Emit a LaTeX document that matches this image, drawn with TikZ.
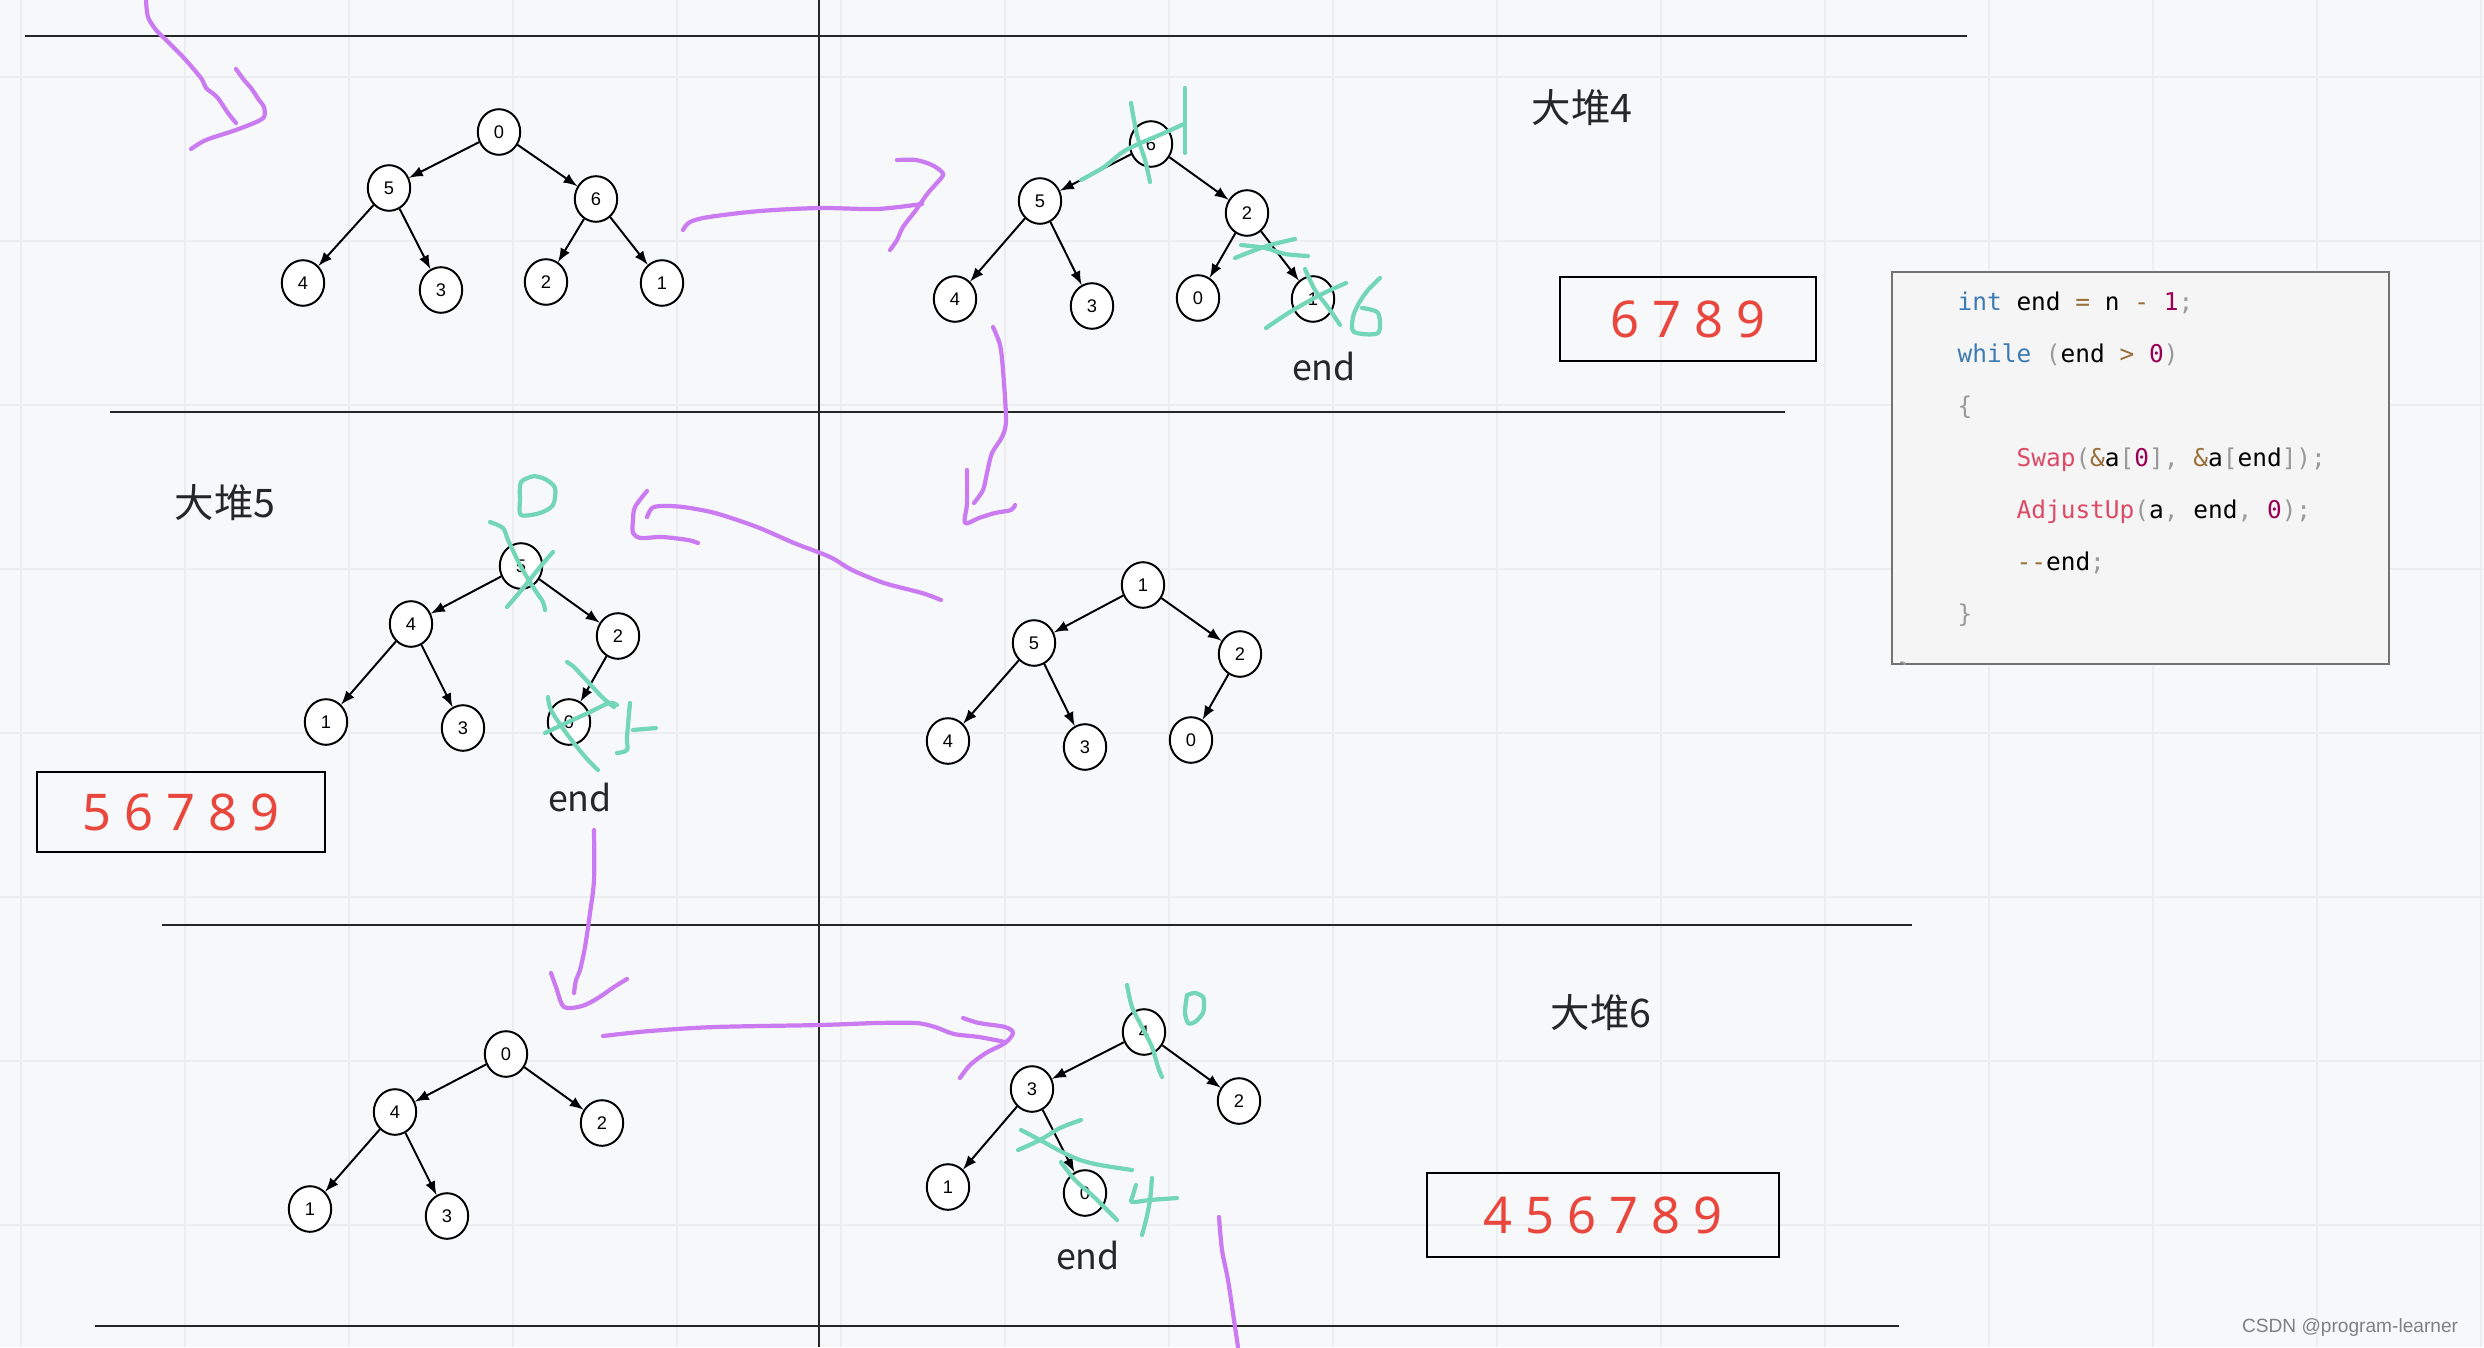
\documentclass[tikz,border=0pt]{standalone}
\usepackage{fontspec}
\setmainfont{Noto Sans}
\setmonofont{DejaVu Sans Mono}
\newfontfamily\cjk{Noto Sans CJK SC}
\newfontfamily\thin{Liberation Sans}
\usetikzlibrary{shapes.geometric}
\definecolor{paper}{HTML}{F7F8FA}
\definecolor{gridline}{HTML}{ECEDF0}
\definecolor{penpurple}{HTML}{CB7BF2}
\definecolor{pengreen}{HTML}{72D6B7}
\definecolor{redtxt}{HTML}{E9473D}
\definecolor{codebg}{HTML}{F5F5F5}
\definecolor{ckw}{HTML}{3C7BB3}
\definecolor{cfn}{HTML}{DD4A68}
\definecolor{cnum}{HTML}{990055}
\definecolor{cop}{HTML}{9A6E3A}
\definecolor{cpun}{HTML}{999999}
\newcommand{\ckey}[1]{\textcolor{ckw}{#1}}
\newcommand{\cfunc}[1]{\textcolor{cfn}{#1}}
\newcommand{\cnumb}[1]{\textcolor{cnum}{#1}}
\newcommand{\coper}[1]{\textcolor{cop}{#1}}
\newcommand{\cpunc}[1]{\textcolor{cpun}{#1}}
\begin{document}
\begin{tikzpicture}[>=latex,x=0.0125cm,y=-0.0125cm,
    hn/.style={ellipse,draw,fill=white,line width=0.7pt,minimum width=0.53cm,minimum height=0.57cm,inner sep=0pt,font=\thin\fontsize{6.5}{7}\selectfont},
    tr/.style={->,line width=0.7pt},
    sep/.style={line width=0.8pt,black!85},
    pp/.style={penpurple,line width=1.5pt,line cap=round,line join=round},
    gp/.style={pengreen,line width=1.5pt,line cap=round,line join=round},
    lab/.style={font=\cjk\fontsize{14}{16}\selectfont,text=black!85},
    endl/.style={font=\cjk\fontsize{12.7}{14}\selectfont,text=black!85},
    res/.style={draw,line width=0.7pt,text=redtxt,inner sep=0pt,font=\fontsize{18}{20}\selectfont},
    cl/.style={anchor=base west,inner sep=0pt,font=\ttfamily\fontsize{8.7}{10}\selectfont}]

\fill[paper] (0,0) rectangle (2484,1347);
\useasboundingbox (0,0) rectangle (2484,1347);
\foreach \x in {21,185,...,2481} \draw[gridline,line width=0.8pt] (\x,0)--(\x,1347);
\foreach \y in {77,241,...,1225} \draw[gridline,line width=0.8pt] (0,\y)--(2484,\y);

\draw[sep] (25,36)--(1967,36);
\draw[sep] (819,0)--(819,1347);
\draw[sep] (110,412)--(1785,412);
\draw[sep] (162,925)--(1912,925);
\draw[sep] (95,1326)--(1899,1326);

\foreach \n/\x/\y in {0/499/132,5/389/188,6/596/199,4/303/283,3/441/290,2/546/282,1/662/283}
    \node[hn] (a\n) at (\x,\y) {\n};
\foreach \p/\c in {0/5,0/6,5/4,5/3,6/2,6/1} \draw[tr] (a\p)--(a\c);

\foreach \n/\x/\y in {6/1151/144,5/1040/201,2/1247/213,4/955/299,3/1092/306,0/1198/298,1/1313/299}
    \node[hn] (b\n) at (\x,\y) {\n};
\foreach \p/\c in {6/5,6/2,5/4,5/3,2/0,2/1} \draw[tr] (b\p)--(b\c);

\foreach \n/\x/\y in {5/521/566,4/411/624,2/618/636,1/326/722,3/463/728,0/569/722}
    \node[hn] (c\n) at (\x,\y) {\n};
\foreach \p/\c in {5/4,5/2,4/1,4/3,2/0} \draw[tr] (c\p)--(c\c);

\foreach \n/\x/\y in {1/1143/585,5/1034/643,2/1240/654,4/948/741,3/1085/747,0/1191/740}
    \node[hn] (d\n) at (\x,\y) {\n};
\foreach \p/\c in {1/5,1/2,5/4,5/3,2/0} \draw[tr] (d\p)--(d\c);

\foreach \n/\x/\y in {0/506/1054,4/395/1112,2/602/1123,1/310/1209,3/447/1216}
    \node[hn] (e\n) at (\x,\y) {\n};
\foreach \p/\c in {0/4,0/2,4/1,4/3} \draw[tr] (e\p)--(e\c);

\foreach \n/\x/\y in {4/1144/1032,3/1032/1089,2/1239/1101,1/948/1187,0/1085/1193}
    \node[hn] (f\n) at (\x,\y) {\n};
\foreach \p/\c in {4/3,4/2,3/1,3/0} \draw[tr] (f\p)--(f\c);

\node[lab] (h4) at (1582,108) {大堆4};
\node[lab] (h5) at (225,503) {大堆5};
\node[lab] (h6) at (1601,1013) {大堆6};
\node[endl] (end4) at (1324,367) {end};
\node[endl] (end5) at (580,798) {end};
\node[endl] (end6) at (1088,1255) {end};

\node[res,minimum width=3.19cm,minimum height=1.05cm] (r4) at (1688,319) {6 7 8 9};
\node[res,minimum width=3.61cm,minimum height=1.01cm] (r5) at (181,812) {5 6 7 8 9};
\node[res,minimum width=4.41cm,minimum height=1.04cm] (r6) at (1603,1215) {4 5 6 7 8 9};

\node[draw=black!55,fill=codebg,line width=0.6pt,minimum width=6.21cm,minimum height=4.9cm,inner sep=0pt] (code) at (2140.5,468) {};
\begin{scope}
\clip (1892,272) rectangle (2389,664);
\node[cl,text=cpun] (c0) at (1897,680) {\}};
\end{scope}
\node[cl] (c1) at (1957,310) {\ckey{int} end \coper{=} n \coper{-} \cnumb{1}\cpunc{;}};
\node[cl] (c2) at (1957,362) {\ckey{while} \cpunc{(}end \coper{>} \cnumb{0}\cpunc{)}};
\node[cl] (c3) at (1957,414) {\cpunc{\{}};
\node[cl] (c4) at (2016,466) {\cfunc{Swap}\cpunc{(}\coper{\&}a\cpunc{[}\cnumb{0}\cpunc{],} \coper{\&}a\cpunc{[}end\cpunc{]);}};
\node[cl] (c5) at (2016,518) {\cfunc{AdjustUp}\cpunc{(}a\cpunc{,} end\cpunc{,} \cnumb{0}\cpunc{);}};
\node[cl] (c6) at (2016,570) {\coper{-{}-}end\cpunc{;}};
\node[cl] (c7) at (1957,622) {\cpunc{\}}};

\node[font=\thin\fontsize{6.8}{8}\selectfont,text=black!50,anchor=east] (wm) at (2468,1328) {CSDN @program-learner};

\draw[pp] plot[smooth,tension=0.5] coordinates {(146,0) (148,17) (156,30) (164,38) (183,57) (201,78) (206,88) (217,97) (228,113) (236,123)};
\draw[pp] plot[smooth,tension=0.5] coordinates {(236,69) (244,80) (251,88) (259,100) (264,107) (264,117) (254,123) (233,131) (206,140) (191,149)};
\draw[pp] plot[smooth,tension=0.5] coordinates {(683,230) (690,222) (709,217) (760,211) (820,208) (877,209) (922,204)};
\draw[pp] plot[smooth,tension=0.5] coordinates {(897,160) (916,160) (932,165) (942,172) (942,177) (928,193) (916,210) (903,227) (897,240) (890,250)};
\draw[pp] plot[smooth,tension=0.5] coordinates {(993,327) (1000,345) (1003,370) (1006,420) (1002,437) (992,453) (987,473) (983,490) (974,503)};
\draw[pp] plot[smooth,tension=0.5] coordinates {(967,470) (967,503) (965,523) (979,518) (995,513) (1011,510) (1015,505)};
\draw[pp] plot[smooth,tension=0.5] coordinates {(941,600) (922,593) (884,583) (852,570) (830,557) (794,543) (757,527) (715,513) (683,507) (662,506) (652,508) (647,517)};
\draw[pp] plot[smooth,tension=0.5] coordinates {(647,491) (635,507) (633,520) (633,533) (641,538) (662,537) (688,540) (698,543)};
\draw[pp] plot[smooth,tension=0.5] coordinates {(594,830) (594,880) (590,913) (585,947) (580,970) (576,980) (574,993)};
\draw[pp] plot[smooth,tension=0.5] coordinates {(551,973) (556,987) (564,1007) (582,1006) (598,998) (614,987) (627,979)};
\draw[pp] plot[smooth,tension=0.5] coordinates {(603,1036) (650,1031) (715,1027) (820,1025) (877,1023) (916,1023) (935,1027) (954,1034) (979,1037) (1005,1042)};
\draw[pp] plot[smooth,tension=0.5] coordinates {(963,1018) (979,1023) (1005,1027) (1013,1033) (1005,1043) (986,1053) (970,1065) (960,1078)};
\draw[pp] plot[smooth,tension=0.5] coordinates {(1219,1217) (1222,1250) (1228,1280) (1234,1320) (1238,1347)};

\draw[gp] plot[smooth,tension=0.5] coordinates {(1131,103) (1137,135) (1145,160) (1150,182)};
\draw[gp] plot[smooth,tension=0.5] coordinates {(1081,180) (1104,167) (1126,150) (1164,133) (1184,124)};
\draw[gp] (1185,88)--(1185,153);
\draw[gp] plot[smooth,tension=0.5] coordinates {(1235,258) (1250,252) (1270,245) (1295,239)};
\draw[gp] plot[smooth,tension=0.5] coordinates {(1241,245) (1265,248) (1285,254) (1308,256)};
\draw[gp] plot[smooth,tension=0.5] coordinates {(1266,328) (1290,312) (1320,295) (1346,283)};
\draw[gp] plot[smooth,tension=0.5] coordinates {(1305,269) (1315,290) (1330,310) (1340,325)};
\draw[gp] plot[smooth,tension=0.5] coordinates {(1380,278) (1368,290) (1359,303) (1353,317) (1354,332) (1378,333) (1378,313) (1362,308)};

\draw[gp] plot[smooth,tension=0.5] coordinates {(534,476) (521,482) (520,500) (521,515) (540,513) (553,505) (555,488) (545,479) (534,476)};
\draw[gp] plot[smooth,tension=0.5] coordinates {(490,522) (503,528) (508,540) (521,567) (535,590) (543,602) (545,610)};
\draw[gp] plot[smooth,tension=0.5] coordinates {(553,552) (540,567) (524,587) (507,607)};
\draw[gp] plot[smooth,tension=0.5] coordinates {(567,662) (574,667) (588,682) (603,698) (614,707)};
\draw[gp] plot[smooth,tension=0.5] coordinates {(548,697) (551,710) (564,730) (577,747) (588,760) (598,770)};
\draw[gp] plot[smooth,tension=0.5] coordinates {(545,733) (566,723) (588,713) (609,703) (617,705)};
\draw[gp] plot[smooth,tension=0.5] coordinates {(630,703) (627,737) (627,750) (617,753)};
\draw[gp] (633,730)--(656,728);

\draw[gp] plot[smooth,tension=0.5] coordinates {(1127,985) (1132,1007) (1142,1027) (1152,1047) (1158,1067) (1162,1077)};
\draw[gp] plot[smooth,tension=0.5] coordinates {(1187,995) (1195,993) (1203,997) (1204,1005) (1203,1013) (1195,1022) (1188,1023) (1185,1012) (1187,995)};
\draw[gp] plot[smooth,tension=0.5] coordinates {(1018,1150) (1040,1140) (1060,1128) (1081,1120)};
\draw[gp] plot[smooth,tension=0.5] coordinates {(1021,1130) (1040,1140) (1062,1152) (1080,1160) (1100,1165) (1132,1170)};
\draw[gp] plot[smooth,tension=0.5] coordinates {(1061,1162) (1075,1180) (1094,1197) (1117,1220)};
\draw[gp] plot[smooth,tension=0.5] coordinates {(1136,1185) (1133,1195) (1132,1202) (1150,1200) (1177,1198)};
\draw[gp] plot[smooth,tension=0.5] coordinates {(1152,1178) (1150,1200) (1146,1220) (1142,1235)};
\end{tikzpicture}
\end{document}
